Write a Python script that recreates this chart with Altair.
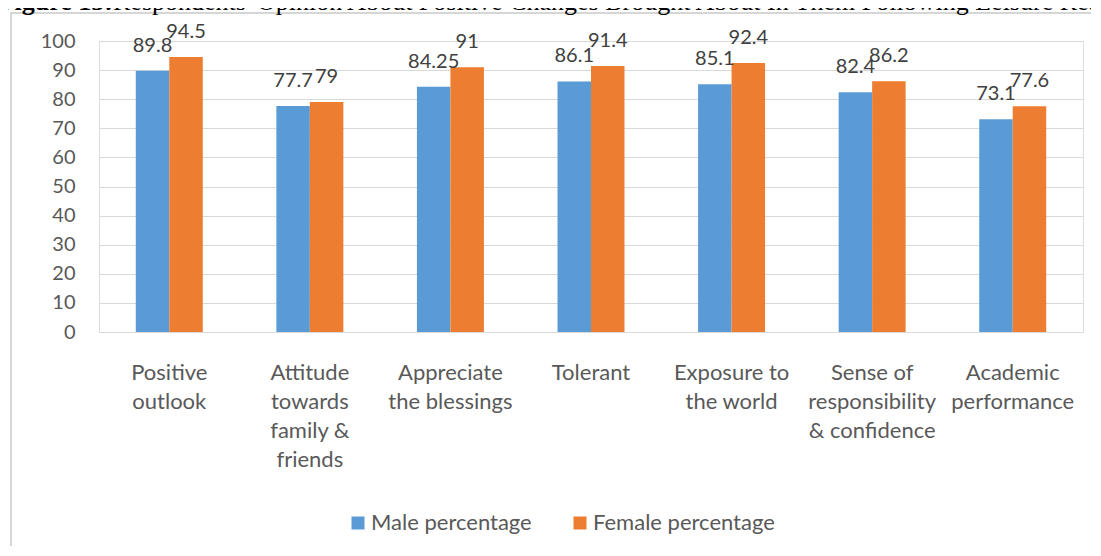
import altair as alt
import pandas as pd

categories = ["Positive|outlook", "Attitude|towards|family &|friends", "Appreciate|the blessings",
              "Tolerant", "Exposure to|the world", "Sense of|responsibility|& confidence",
              "Academic|performance"]
male = [89.8, 77.7, 84.25, 86.1, 85.1, 82.4, 73.1]
female = [94.5, 79, 91, 91.4, 92.4, 86.2, 77.6]
series = ["Male percentage", "Female percentage"]
colors = ["#5B9BD5", "#ED7D31"]
y_ticks = list(range(0, 101, 10))
title_bold = "Figure 15:"
title_rest = "Respondents' Opinion About Positive Changes Brought About In Them Following Leisure Reading"

rows = []
for c, m, f in zip(categories, male, female):
    rows.append({"cat": c, "series": series[0], "value": m, "label": f"{m:g}"})
    rows.append({"cat": c, "series": series[1], "value": f, "label": f"{f:g}"})
df = pd.DataFrame(rows)

FONT = "Lato"

x_enc = alt.X("cat:N", sort=categories,
              scale=alt.Scale(paddingInner=0.5235, paddingOuter=0.26175),
              axis=alt.Axis(title=None, labelExpr="split(datum.label, '|')", labelAngle=0,
                            labelFont=FONT, labelFontSize=22, labelColor="#595959",
                            labelLineHeight=29, labelPadding=30, labelBaseline="top",
                            ticks=False, tickSize=0, domain=True, domainColor="#D9D9D9",
                            labelLimit=0, grid=False))
xo_enc = alt.XOffset("series:N", sort=series, scale=alt.Scale(paddingInner=0, paddingOuter=0))
y_enc = alt.Y("value:Q", scale=alt.Scale(domain=[0, 100], nice=False),
              axis=alt.Axis(title=None, values=y_ticks, grid=True, gridColor="#D9D9D9",
                            gridWidth=1.2, domain=False, ticks=False, tickSize=0,
                            labelPadding=24, labelFont=FONT, labelFontSize=20,
                            labelColor="#595959"))
color_enc = alt.Color("series:N", sort=series,
                      scale=alt.Scale(domain=series, range=colors),
                      legend=alt.Legend(title=None, orient="none", legendX=248, legendY=471,
                                        direction="horizontal", symbolType="square",
                                        symbolSize=169, symbolStrokeWidth=0,
                                        labelFont=FONT, labelFontSize=22,
                                        labelColor="#595959", columnPadding=37,
                                        labelOffset=2, labelLimit=0))

base = alt.Chart(df)
bars = base.mark_bar().encode(x=x_enc, xOffset=xo_enc, y=y_enc, color=color_enc)
labels = base.mark_text(dy=-19, baseline="alphabetic", font=FONT, fontSize=20,
                        color="#404040").encode(x=x_enc, xOffset=xo_enc, y=y_enc,
                                                text="label:N")

one = pd.DataFrame({"t": [title_bold], "r": [title_rest]})
border_left = alt.Chart(one).mark_rule(color="#D6D6D6", strokeWidth=2).encode(
    x=alt.value(-88), y=alt.value(-29), y2=alt.value(600))
border_top = alt.Chart(one).mark_rule(color="#D6D6D6", strokeWidth=2).encode(
    x=alt.value(-89), x2=alt.value(1100), y=alt.value(-28))
t1 = alt.Chart(one).mark_text(align="right", baseline="alphabetic", font="Liberation Serif",
                              fontSize=26, fontWeight="bold", color="black").encode(
    x=alt.value(14), y=alt.value(-31), text="t:N")
t2 = alt.Chart(one).mark_text(align="left", baseline="alphabetic", font="Liberation Serif",
                              fontSize=26, color="black").encode(
    x=alt.value(14), y=alt.value(-31), text="r:N")

chart = alt.layer(border_left, border_top, t1, t2, bars, labels).properties(
    width=984, height=291,
    padding={"left": 91, "top": 33, "right": 8, "bottom": 214},
    autosize=alt.AutoSizeParams(type="none"),
).configure_view(strokeWidth=0, stroke="transparent").configure(background="white")

chart.save("out.html", embed_options={"renderer": "svg", "actions": False})
